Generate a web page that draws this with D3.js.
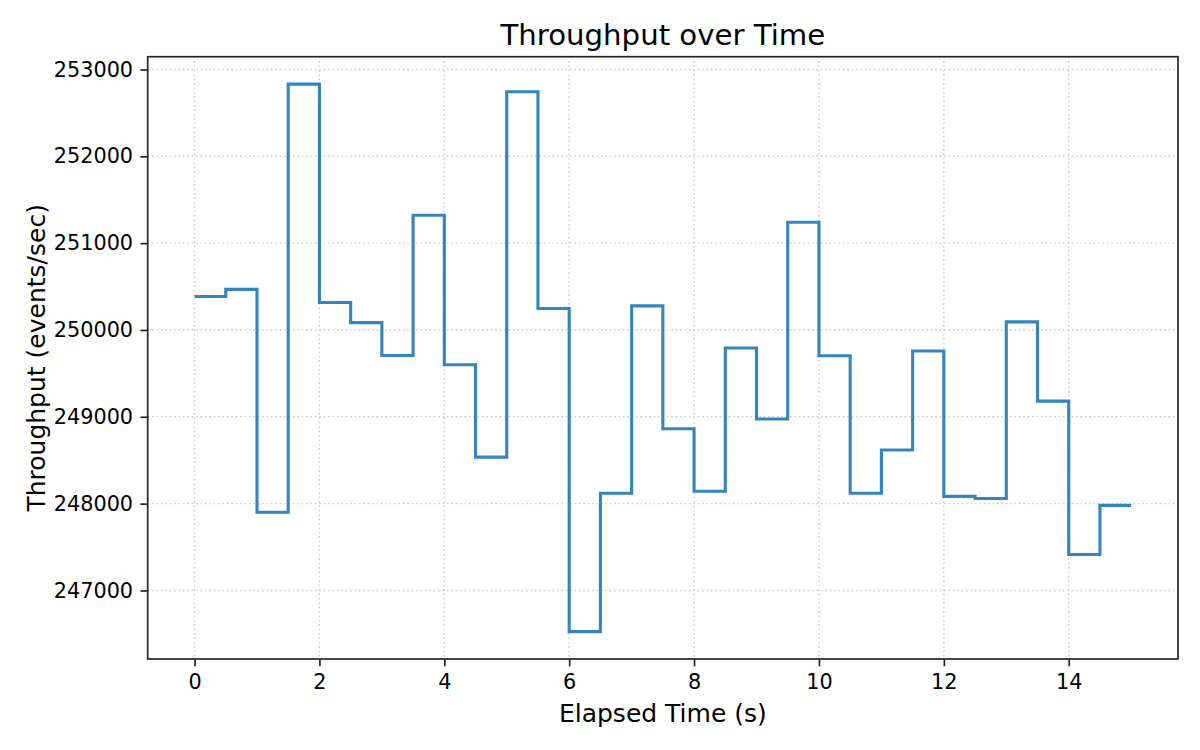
<!DOCTYPE html>
<html>
<head>
<meta charset="utf-8">
<script src="https://cdn.jsdelivr.net/npm/d3@7/dist/d3.min.js"></script>
<style>
  html, body { margin: 0; padding: 0; background: #ffffff; }
  svg { display: block; font-family: "DejaVu Sans", sans-serif; }
</style>
</head>
<body>
<svg id="chart" width="1200" height="750"></svg>
<script>
// ---- data ----
const elapsedTime = [0, 0.5, 1, 1.5, 2, 2.5, 3, 3.5, 4, 4.5, 5, 5.5, 6, 6.5, 7, 7.5,
  8, 8.5, 9, 9.5, 10, 10.5, 11, 11.5, 12, 12.5, 13, 13.5, 14, 14.5, 15];
const throughput = [250385, 250468, 247900, 252832, 250316, 250085, 249706, 251322,
  249600, 248536, 252744, 250248, 246526, 248119, 250278, 248862, 248142, 249793,
  248975, 251240, 249703, 248119, 248617, 249758, 248084, 248060, 250093, 249181,
  247414, 247980, 247980];
const xTicks = [0, 2, 4, 6, 8, 10, 12, 14];
const yTicks = [247000, 248000, 249000, 250000, 251000, 252000, 253000];
const titleText = "Throughput over Time";
const xLabel = "Elapsed Time (s)";
const yLabel = "Throughput (events/sec)";

// ---- layout ----
const W = 1200, H = 750;
const L = 147.7, R = 1178, T = 56.7, B = 659;
const svg = d3.select("#chart");

const xExt = d3.extent(elapsedTime);
const xPad = (xExt[1] - xExt[0]) * 0.05;
const x = d3.scaleLinear().domain([xExt[0] - xPad, xExt[1] + xPad]).range([L, R]);

const yExt = d3.extent(throughput);
const yPad = (yExt[1] - yExt[0]) * 0.05;
const y = d3.scaleLinear().domain([yExt[0] - yPad, yExt[1] + yPad]).range([B, T]);

// grid
const grid = svg.append("g").attr("class", "grid");
grid.selectAll("line.gx").data(xTicks).join("line")
  .attr("x1", d => x(d)).attr("x2", d => x(d))
  .attr("y1", T).attr("y2", B)
  .attr("stroke", "#cccccc").attr("stroke-width", 1.4)
  .attr("stroke-dasharray", "1.6,2.8");
grid.selectAll("line.gy").data(yTicks).join("line")
  .attr("y1", d => y(d)).attr("y2", d => y(d))
  .attr("x1", L).attr("x2", R)
  .attr("stroke", "#cccccc").attr("stroke-width", 1.4)
  .attr("stroke-dasharray", "1.6,2.8");

// line
const pts = elapsedTime.map((t, i) => [t, throughput[i]]);
const line = d3.line().x(d => x(d[0])).y(d => y(d[1])).curve(d3.curveStepAfter);
svg.append("path")
  .datum(pts)
  .attr("d", line)
  .attr("fill", "none")
  .attr("stroke", "#1f77b4")
  .attr("stroke-opacity", 0.9)
  .attr("stroke-width", 3.1)
  .attr("stroke-linejoin", "miter")
  .attr("stroke-linecap", "butt");

// axes
const xAxis = d3.axisBottom(x).tickValues(xTicks).tickFormat(d3.format("d"))
  .tickSizeInner(7.3).tickSizeOuter(0).tickPadding(7.3);
const yAxis = d3.axisLeft(y).tickValues(yTicks).tickFormat(d3.format("d"))
  .tickSizeInner(7.3).tickSizeOuter(0).tickPadding(7.3);

const gx = svg.append("g").attr("transform", `translate(0,${B})`).call(xAxis);
const gy = svg.append("g").attr("transform", `translate(${L},0)`).call(yAxis);
[gx, gy].forEach(g => {
  g.select(".domain").remove();
  g.selectAll(".tick line").attr("stroke", "#222").attr("stroke-width", 1.67);
  g.selectAll(".tick text").attr("fill", "#000").style("font-size", "20.8px")
    .style("font-family", "DejaVu Sans, sans-serif");
});
gx.selectAll(".tick text").attr("dy", "0.76em");

// frame
svg.append("rect")
  .attr("x", L).attr("y", T).attr("width", R - L).attr("height", B - T)
  .attr("fill", "none").attr("stroke", "#222").attr("stroke-width", 1.67);

// title & labels
svg.append("text").attr("x", (L + R) / 2).attr("y", 45)
  .attr("text-anchor", "middle").style("font-size", "29.2px").attr("fill", "#000")
  .text(titleText);
svg.append("text").attr("x", (L + R) / 2).attr("y", 721.5)
  .attr("text-anchor", "middle").style("font-size", "25px").attr("fill", "#000")
  .text(xLabel);
svg.append("text")
  .attr("transform", `translate(44.5,${(T + B) / 2}) rotate(-90)`)
  .attr("text-anchor", "middle").style("font-size", "25px").attr("fill", "#000")
  .text(yLabel);
</script>
</body>
</html>
